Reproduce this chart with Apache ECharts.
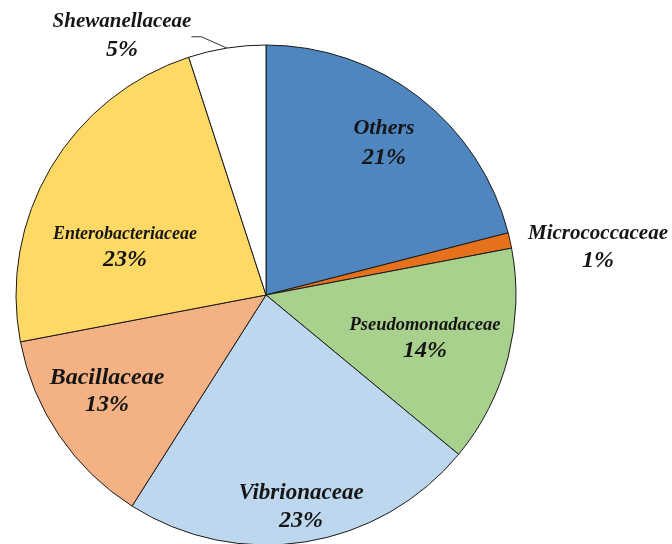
<!DOCTYPE html>
<html>
<head>
<meta charset="utf-8">
<script src="https://cdn.jsdelivr.net/npm/echarts@6/dist/echarts.min.js"></script>
<style>
  html, body { margin: 0; padding: 0; background: #fff; }
  #chart { width: 672px; height: 544px; }
</style>
</head>
<body>
<div id="chart"></div>
<script>
// slices, clockwise from 12 o'clock
const families = ['Others', 'Micrococcaceae', 'Pseudomonadaceae', 'Vibrionaceae', 'Bacillaceae', 'Enterobacteriaceae', 'Shewanellaceae'];
const shares = [21, 1, 14, 23, 13, 23, 5];

const sliceColors = ['#4f86bf', '#e5711c', '#a9d18e', '#bdd7ee', '#f4b183', '#ffd966', '#ffffff'];
// label block centres (px), font sizes for name / percent, gap between the two lines
const labelSpots = [[384, 143], [598, 247], [425, 338], [301, 507], [107, 391], [125, 247], [122, 36]];
const nameSizes = [22, 21, 18.5, 23, 24, 18, 21];
const pctSizes = [24, 24, 24, 24, 24, 24, 24];
const lineGaps = [29, 27, 26, 28, 27, 25, 28];

const chart = echarts.init(document.getElementById('chart'));

const pieData = families.map((name, i) => {
  const outside = name === 'Shewanellaceae' || name === 'Micrococcaceae';
  const base = { fontWeight: 'bold', fontStyle: 'italic', fontFamily: 'Liberation Serif', color: '#151515', lineHeight: lineGaps[i], align: 'center' };
  return {
    name: name,
    value: shares[i],
    itemStyle: { color: sliceColors[i] },
    label: {
      position: outside ? 'outside' : 'inside',
      overflow: 'none',
      rich: {
        n: Object.assign({ fontSize: nameSizes[i] }, base),
        p: Object.assign({ fontSize: pctSizes[i] }, base)
      }
    },
    labelLine: { show: name === 'Shewanellaceae' }
  };
});

chart.setOption({
  animation: false,
  series: [
    {
      type: 'pie',
      center: [266, 295],
      radius: 250,
      startAngle: 90,
      clockwise: true,
      itemStyle: { borderColor: '#1a1a1a', borderWidth: 1 },
      label: {
        formatter: '{n|{b}}\n{p|{c}%}',
        overflow: 'none'
      },
      labelLine: {
        length: 14,
        length2: 10,
        lineStyle: { color: '#333', width: 1 }
      },
      labelLayout: function (params) {
        const spot = labelSpots[params.dataIndex];
        return {
          x: spot[0],
          y: spot[1],
          align: 'center',
          verticalAlign: 'middle'
        };
      },
      emphasis: { disabled: true },
      data: pieData
    }
  ]
});
</script>
</body>
</html>
